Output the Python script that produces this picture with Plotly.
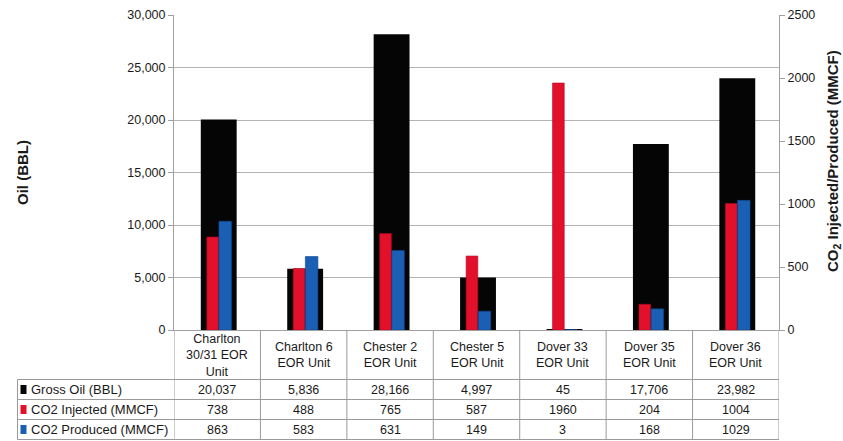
import plotly.graph_objects as go

categories = ["Charlton<br>30/31 EOR<br>Unit", "Charlton 6<br>EOR Unit", "Chester 2<br>EOR Unit",
              "Chester 5<br>EOR Unit", "Dover 33<br>EOR Unit", "Dover 35<br>EOR Unit", "Dover 36<br>EOR Unit"]
gross_oil = [20037, 5836, 28166, 4997, 45, 17706, 23982]
co2_injected = [738, 488, 765, 587, 1960, 204, 1004]
co2_produced = [863, 583, 631, 149, 3, 168, 1029]
row_labels = ["Gross Oil (BBL)", "CO2 Injected (MMCF)", "CO2 Produced (MMCF)"]
row_colors = ["#050505", "#e3102c", "#1a5fb4"]

W, H = 843, 441
L, R, T, B = 174, 779, 15, 330
FONT = "Liberation Sans, Arial, sans-serif"

def py(p):  # pixel y -> paper y (paper == full figure, no margins)
    return 1 - p / H

def px(p):  # pixel x -> paper x
    return p / W

xs = list(range(len(categories)))

fig = go.Figure()
fig.add_trace(go.Bar(x=xs, y=gross_oil, name=row_labels[0], marker=dict(color=row_colors[0], line=dict(width=0)),
                     width=0.415, offset=-0.19, yaxis="y"))
fig.add_trace(go.Bar(x=xs, y=co2_injected, name=row_labels[1], marker=dict(color=row_colors[1], line=dict(color="#b00820", width=0.6)),
                     width=0.135, offset=-0.12, yaxis="y2"))
fig.add_trace(go.Bar(x=xs, y=co2_produced, name=row_labels[2], marker=dict(color=row_colors[2], line=dict(color="#0e4690", width=0.6)),
                     width=0.145, offset=0.02, yaxis="y2"))

grid = "#b4b4b4"
fig.update_layout(
    width=W, height=H, margin=dict(l=0, r=0, t=0, b=0, pad=0, autoexpand=False),
    paper_bgcolor="white", plot_bgcolor="rgba(0,0,0,0)", showlegend=False, barmode="overlay",
    font=dict(family=FONT, size=12, color="#1a1a1a"),
    xaxis=dict(domain=[px(L), px(R)], range=[-0.5, 6.5], showticklabels=False, showgrid=False, zeroline=False,
               showline=True, linecolor="#a0a0a0", linewidth=1, fixedrange=True, automargin=False),
    yaxis=dict(domain=[py(B), py(T)], range=[0, 30000], tickvals=[0, 5000, 10000, 15000, 20000, 25000, 30000],
               tickformat=",", showgrid=True, gridcolor=grid, gridwidth=1, zeroline=False,
               showline=True, linecolor="#a0a0a0", ticks="outside", ticklen=5, tickcolor="#a0a0a0",
               automargin=False, tickfont=dict(size=12.5, family=FONT, color="#1a1a1a")),
    yaxis2=dict(range=[0, 2500], tickvals=[0, 500, 1000, 1500, 2000, 2500], overlaying="y", side="right",
                showgrid=False, zeroline=False, showline=True, linecolor="#a0a0a0",
                ticks="outside", ticklen=5, tickcolor="#a0a0a0", automargin=False,
                tickfont=dict(size=12.5, family=FONT, color="#1a1a1a")),
)

# Axis titles
fig.add_annotation(text="<b>Oil (BBL)</b>", xref="paper", yref="paper", x=px(22), y=py(173),
                   xanchor="center", yanchor="middle",
                   textangle=-90, showarrow=False, font=dict(size=15, family=FONT, color="#1a1a1a"))
fig.add_annotation(text="<b>CO<sub>2</sub> Injected/Produced (MMCF)</b>", xref="paper", yref="paper",
                   x=px(833), y=py(161), xanchor="center", yanchor="middle", textangle=-90, showarrow=False,
                   font=dict(size=15, family=FONT, color="#1a1a1a"))

# Data table grid
line = dict(color="#9a9a9a", width=1)
row_y = [379.5, 399.5, 419.5, 439.5]
tbl_left = 17.5
shapes = []
for yy in row_y:
    shapes.append(dict(type="line", xref="paper", yref="paper", layer="above",
                       x0=px(tbl_left), x1=px(R), y0=py(yy), y1=py(yy), line=line))
shapes.append(dict(type="line", xref="paper", yref="paper", x0=px(tbl_left), x1=px(tbl_left),
                   y0=py(379.5), y1=py(439.5), line=line))
for i in range(len(categories) + 1):
    shapes.append(dict(type="line", xref="x", yref="paper", x0=i - 0.5, x1=i - 0.5, y0=py(B), y1=py(439.5), line=line))
# legend keys
for j, c in enumerate(row_colors):
    yc = (row_y[j] + row_y[j + 1]) / 2
    shapes.append(dict(type="rect", xref="paper", yref="paper", x0=px(20.5), x1=px(26.5),
                       y0=py(yc + 4.5), y1=py(yc - 4.5), fillcolor=c, line=dict(width=0)))
fig.update_layout(shapes=shapes)

for i, cat in enumerate(categories):
    fig.add_annotation(text=cat, xref="x", yref="paper", x=i, y=py(355), xanchor="center", yanchor="middle",
                       showarrow=False, font=dict(size=12.5, family=FONT, color="#1a1a1a"), align="center")

values = [[f"{v:,}" for v in gross_oil], [str(v) for v in co2_injected], [str(v) for v in co2_produced]]
for j in range(3):
    yc = (row_y[j] + row_y[j + 1]) / 2
    fig.add_annotation(text=row_labels[j], xref="paper", yref="paper", x=px(29), y=py(yc),
                       xanchor="left", yanchor="middle", showarrow=False,
                       font=dict(size=13, family=FONT, color="#1a1a1a"))
    for i, v in enumerate(values[j]):
        fig.add_annotation(text=v, xref="x", yref="paper", x=i, y=py(yc), xanchor="center", yanchor="middle",
                           showarrow=False, font=dict(size=12.5, family=FONT, color="#1a1a1a"))

fig.write_html("out.html")
